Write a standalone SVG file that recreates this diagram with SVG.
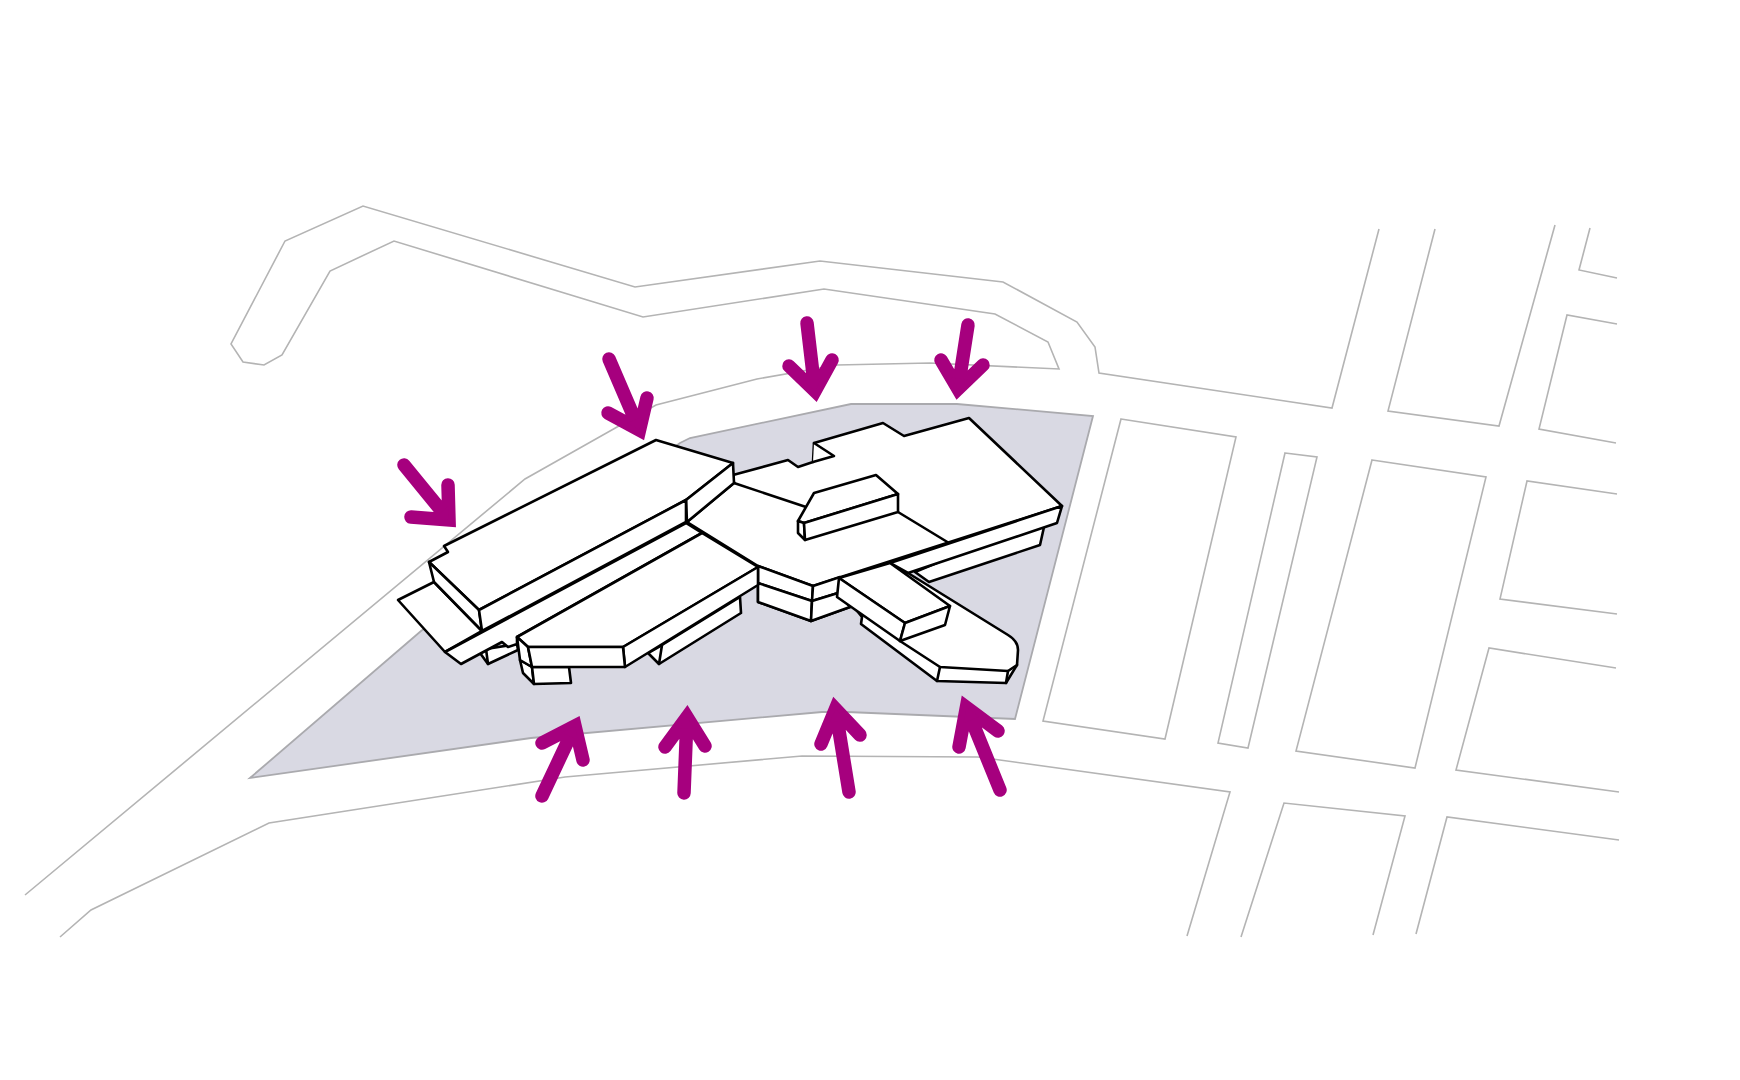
<svg xmlns="http://www.w3.org/2000/svg" width="1740" height="1080" viewBox="0 0 1740 1080">
<style>
.road{fill:none;stroke:#b4b4b4;stroke-width:1.6;stroke-linejoin:miter}
.b{fill:#fff;stroke:#000;stroke-width:2.6;stroke-linejoin:round;stroke-linecap:round}
.a{fill:none;stroke:#a6007e;stroke-width:13.5;stroke-linecap:round;stroke-linejoin:miter;stroke-miterlimit:4}
.h{fill:#a6007e}
</style>
<rect width="1740" height="1080" fill="#fff"/>
<g id="roads">
<path class="road" d="M25 895L525 479L656 405L757 379L837 365L930 363L1059 369L1048 342L995 314L824 289L643 317L394 241L330 271L282 355L264 365L243 362L231 344L285 241L363 206L635 287L820 261L1003 282L1077 322L1095 347L1099 373L1332 408L1379 229"/>
<path class="road" d="M1435 229L1388 411L1499 426L1555 225"/>
<path class="road" d="M1590 228L1579 270L1617 278"/>
<path class="road" d="M1617 324L1567 315L1539 429L1616 443"/>
<path class="road" d="M1121 419L1236 437L1165 739L1043 721Z"/>
<path class="road" d="M1285 453L1317 457L1248 748L1218 743Z"/>
<path class="road" d="M1372 460L1486 477L1415 768L1296 751Z"/>
<path class="road" d="M1617 494L1527 481L1500 599L1617 614"/>
<path class="road" d="M1616 668L1489 648L1456 770L1619 792"/>
<path class="road" d="M60 937L91 910L269 823L565 777L802 756L978 757L1230 792L1187 936"/>
<path class="road" d="M1241 937L1284 803L1405 816L1373 935"/>
<path class="road" d="M1416 934L1447 817L1619 840"/>
</g>
<g id="site">
<path d="M250 778L421 631L680 443L690 438L851 404L957 404L1093 416L1015 719L847 712L822 712L531 738Z" fill="#d9d9e3" stroke="#aaaaae" stroke-width="1.8"/>
</g>
<g id="building">
<path class="b" d="M480 653L488 664L518 650L517 644L486 649Z"/>
<path class="b" d="M486 649L488 664"/>
<path class="b" d="M648 653L659 664L741 613L740 597L662 645Z"/>
<path class="b" d="M662 645L659 664"/>
<path class="b" d="M758 602L811 621L850 607L838 585L758 584Z"/>
<path class="b" d="M1044 527L1040 545L929 582L915 572L1040 520Z"/>
<path class="b" d="M908 573L1008 635Q1018 641 1018 650L1017 665L1006 683L937 681L861 624L862 617L840 590L890 563Z"/>
<path class="b" d="M900 641L940 667L1008 671L1017 665"/>
<path class="b" d="M940 667L937 681"/>
<path class="b" d="M1008 671L1006 683"/>
<path class="b" d="M733 475L788 460L798 467L813 462L814 443L883 423L904 436L969 418L1062 506L813 586L758 566L687 522L734 483Z"/>
<path class="b" d="M814 443L834 456L813 462"/>
<path class="b" d="M734 483L806 507"/>
<path class="b" d="M898 512L949 543"/>
<path class="b" d="M1062 506L1057 523L908 573L890 563Z"/>
<path class="b" d="M758 566L813 586L812 601L758 583Z"/>
<path class="b" d="M813 586L840 577L838 593L812 601Z"/>
<path class="b" d="M758 583L812 601L811 621L758 602Z"/>
<path class="b" d="M812 601L838 593L850 607L811 621Z"/>
<path class="b" d="M814 493L876 475L898 494L804 523L798 521Z"/>
<path class="b" d="M798 521L804 523L805 540L798 533Z"/>
<path class="b" d="M804 523L898 494L898 512L805 540Z"/>
<path class="b" d="M839 578L890 563L950 606L905 623Z"/>
<path class="b" d="M839 578L905 623L900 641L837 597Z"/>
<path class="b" d="M905 623L950 606L945 625L900 641Z"/>
<path class="b" d="M398 600L434 582L482 631L445 652Z"/>
<path class="b" d="M445 652L686 523L702 533L517 637L517 644L508 647L502 642L461 664Z"/>
<path class="b" d="M656 440L733 463L686 500L479 610L429 562L448 552L444 546Z"/>
<path class="b" d="M733 463L734 483L687 522L686 500Z"/>
<path class="b" d="M429 562L434 582L482 631L479 610Z"/>
<path class="b" d="M479 610L686 500L686 522L482 631Z"/>
<path class="b" d="M702 533L758 567L623 647L528 647L517 637Z"/>
<path class="b" d="M623 647L758 567L758 585L625 667Z"/>
<path class="b" d="M520 660L532 667L534 684L523 673Z"/>
<path class="b" d="M532 667L569 667L571 683L534 684Z"/>
<path class="b" d="M517 637L528 647L532 667L520 660Z"/>
<path class="b" d="M528 647L623 647L625 667L532 667Z"/>
</g>
<g id="arrows">
<g id="arrow-1"><path class="a" d="M404 465L449 520M448 485L449 520L411 517"/><polygon class="h" points="449,520 448.6,506 433.8,518.8"/></g>
<g id="arrow-2"><path class="a" d="M609 359L639.5 430M647 398L639.5 430L608 413"/><polygon class="h" points="639.5,430 642.5,417 627,423"/></g>
<g id="arrow-3"><path class="a" d="M807 323L815 391M789 366L815 391L832 360"/><polygon class="h" points="815,391 804.6,381 821.8,378.6"/></g>
<g id="arrow-4"><path class="a" d="M968 325L958 389M941 360L958 389L983 365"/><polygon class="h" points="958,389 951.2,377.4 968,379.4"/></g>
<g id="arrow-5"><path class="a" d="M542 796L575 726M542 743L575 726L583 760"/><polygon class="h" points="575,726 561.8,732.8 578.2,739.6"/></g>
<g id="arrow-6"><path class="a" d="M684 793L687 717M665 747L687 717L705 746"/><polygon class="h" points="687,717 678.2,729 694.2,728.6"/></g>
<g id="arrow-7"><path class="a" d="M849 792L835.5 709M821 744L835.5 709L860 735"/><polygon class="h" points="835.5,709 829.7,723 845.3,719.4"/></g>
<g id="arrow-8"><path class="a" d="M1000 790L966.4 707.4M959 747L966.4 707.4L998 731"/><polygon class="h" points="966.4,707.4 963.4,723.2 979,716.8"/></g>
</g>
</svg>
